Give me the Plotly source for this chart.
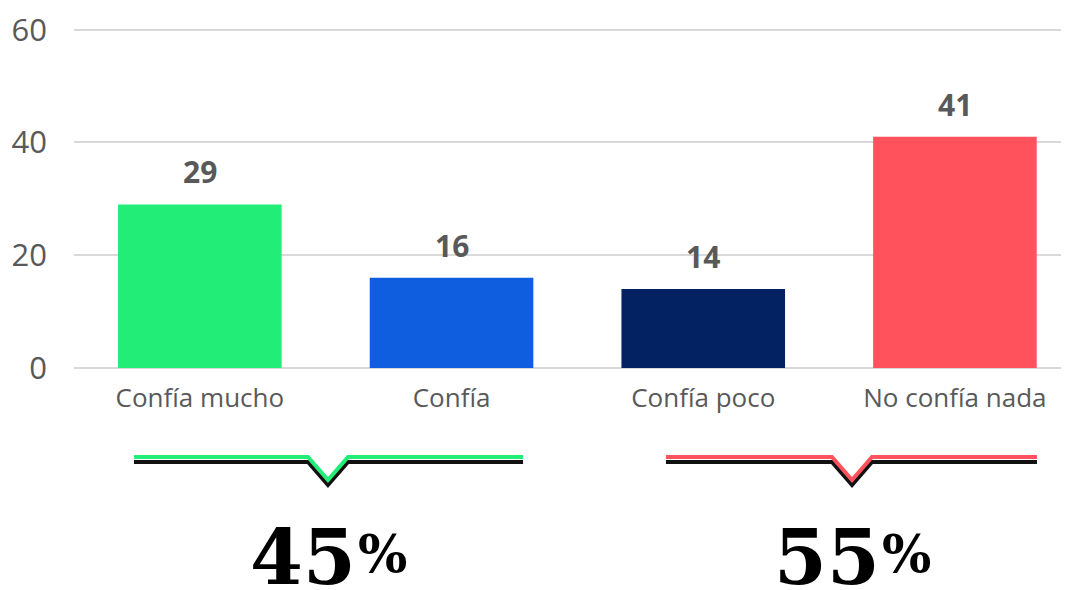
import plotly.graph_objects as go

# Data
categories = ['Confía mucho', 'Confía', 'Confía poco', 'No confía nada']
values = [29, 16, 14, 41]
bar_colours = ['#22EE77', '#0F5EDF', '#022262', '#FF525D']
y_ticks = [0, 20, 40, 60]

# Groups summarised under the chart (indices into categories)
groups = [[0, 1], [2, 3]]
group_colours = ['#22EE77', '#FF525D']

W, H = 1069, 590
OFF = 8  # page body margin
M_L, M_R, M_T, M_B = 74 - OFF, 0, 28 - OFF, H - (368 - OFF)


def px_to_paper(px, py):
    '''Convert page pixel position to paper coordinates'''
    pw = W - M_L - M_R
    ph = H - M_T - M_B
    return (px - OFF - M_L) / pw, (H - M_B - (py - OFF)) / ph


fig = go.Figure()

fig.add_trace(go.Bar(
    x=categories,
    y=values,
    marker=dict(color=bar_colours, line_width=0),
    width=0.65,
    hoverinfo='skip'))

# Value labels above bars
for cat, val in zip(categories, values):
    fig.add_annotation(
        x=cat, y=val, text=f'<b>{val}</b>', showarrow=False,
        yanchor='bottom', yshift=10,
        font=dict(family='Open Sans', size=30, color='#595959'))

# Brackets and totals under the chart
bracket_px = [(134, 523, 328), (666, 1037, 852)]
for (x1, x2, xv), idx, col in zip(bracket_px, groups, group_colours):
    total = sum(values[i] for i in idx)
    for dy, c in [(5, '#111111'), (0, col)]:
        y_top = 457 + dy
        pts = [(x1, y_top), (xv - 20, y_top), (xv, 480 + dy),
               (xv + 20, y_top), (x2, y_top)]
        pp = [px_to_paper(a, b) for a, b in pts]
        path = 'M ' + ' L '.join(f'{a:.4f},{b:.4f}' for a, b in pp)
        fig.add_shape(type='path', path=path, xref='paper', yref='paper',
                      line=dict(color=c, width=4))
    # Digits then a smaller percent sign
    tx, ty = px_to_paper(xv + 30, 584)
    fig.add_annotation(
        x=tx, y=ty, xref='paper', yref='paper', showarrow=False,
        xanchor='right', yanchor='bottom', yshift=-20,
        text=f'<b>{total}</b>',
        font=dict(family='DejaVu Serif', size=76, color='#000000'))
    tx, ty = px_to_paper(xv + 28, 574)
    fig.add_annotation(
        x=tx, y=ty, xref='paper', yref='paper', showarrow=False,
        xanchor='left', yanchor='bottom', yshift=-12,
        text='<b>%</b>',
        font=dict(family='DejaVu Serif', size=52, color='#000000'))

fig.update_layout(
    width=W, height=H,
    margin=dict(l=M_L, r=M_R, t=M_T, b=M_B, autoexpand=False),
    plot_bgcolor='white', paper_bgcolor='white',
    showlegend=False,
    bargap=0.35)

fig.update_xaxes(
    range=[-0.5, 3.485],
    showgrid=False, showline=False, zeroline=False,
    automargin=False,
    tickfont=dict(family='Open Sans', size=26, color='#595959'),
    ticklabelstandoff=12)

fig.update_yaxes(
    range=[0, 60.3],
    tickvals=y_ticks,
    showgrid=True, gridcolor='#D9D9D9', gridwidth=2,
    zeroline=True, zerolinecolor='#D9D9D9', zerolinewidth=2,
    showline=False, automargin=False,
    ticklabeloverflow='allow',
    tickfont=dict(family='Open Sans', size=31, color='#595959'),
    ticklabelstandoff=26)

fig.write_html('out.html')
